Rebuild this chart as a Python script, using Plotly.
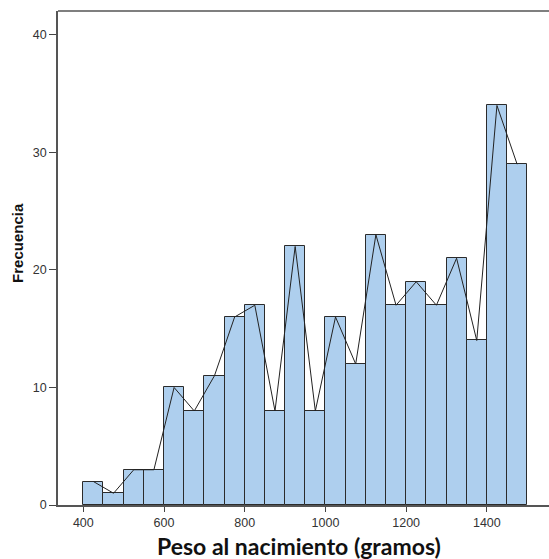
import plotly.graph_objects as go

bin_start = [400, 450, 500, 550, 600, 650, 700, 750, 800, 850, 900, 950,
             1000, 1050, 1100, 1150, 1200, 1250, 1300, 1350, 1400, 1450]
bin_width = 50
counts = [2, 1, 3, 3, 10, 8, 11, 16, 17, 8, 22, 8,
          16, 12, 23, 17, 19, 17, 21, 14, 34, 29]
x_ticks = [400, 600, 800, 1000, 1200, 1400]
y_ticks = [0, 10, 20, 30, 40]

centers = [b + bin_width / 2 for b in bin_start]

fig = go.Figure()
fig.add_trace(go.Bar(
    x=centers, y=counts, width=bin_width,
    marker=dict(color="#AECFEE", line=dict(color="#2b2b2b", width=1)),
    showlegend=False, hoverinfo="x+y",
))
fig.add_trace(go.Scatter(
    x=centers, y=counts, mode="lines",
    line=dict(color="#222222", width=1),
    showlegend=False,
))

fig.update_layout(
    width=549, height=559,
    margin=dict(l=58, r=0, t=11, b=54),
    paper_bgcolor="white", plot_bgcolor="white",
    bargap=0,
    font=dict(family="Liberation Sans, Arial", color="#333333"),
    shapes=[dict(type="line", xref="paper", yref="paper", x0=0, x1=1, y0=1, y1=1,
                 line=dict(color="#555", width=1.5))],
    annotations=[
        dict(text="<b>Peso al nacimiento (gramos)</b>", xref="paper", yref="paper",
             x=0.491, y=-0.083, xanchor="center", yanchor="middle", showarrow=False,
             font=dict(family="Lato, Open Sans", size=23, color="#111")),
        dict(text="<b>Frecuencia</b>", xref="paper", yref="paper", textangle=-90,
             x=-0.084, y=0.53, xanchor="center", yanchor="middle", showarrow=False,
             font=dict(family="Liberation Sans, Arial", size=15, color="#111")),
    ],
)
fig.update_xaxes(
    range=[337.3, 1554], tickvals=x_ticks, ticktext=[str(v) for v in x_ticks],
    ticks="outside", ticklen=5, tickcolor="#444", tickwidth=1,
    showline=True, linecolor="#555", linewidth=1.5,
    showgrid=False, zeroline=False,
    tickfont=dict(size=12.5, color="#333"),
)
fig.update_yaxes(
    range=[0, 42.04], tickvals=y_ticks, ticktext=[str(v) for v in y_ticks],
    ticks="outside", ticklen=7, tickcolor="#444", tickwidth=1,
    showline=True, linecolor="#555", linewidth=1.5,
    showgrid=False, zeroline=False,
    tickfont=dict(size=12.5, color="#333"),
)

fig.write_html("out.html")
